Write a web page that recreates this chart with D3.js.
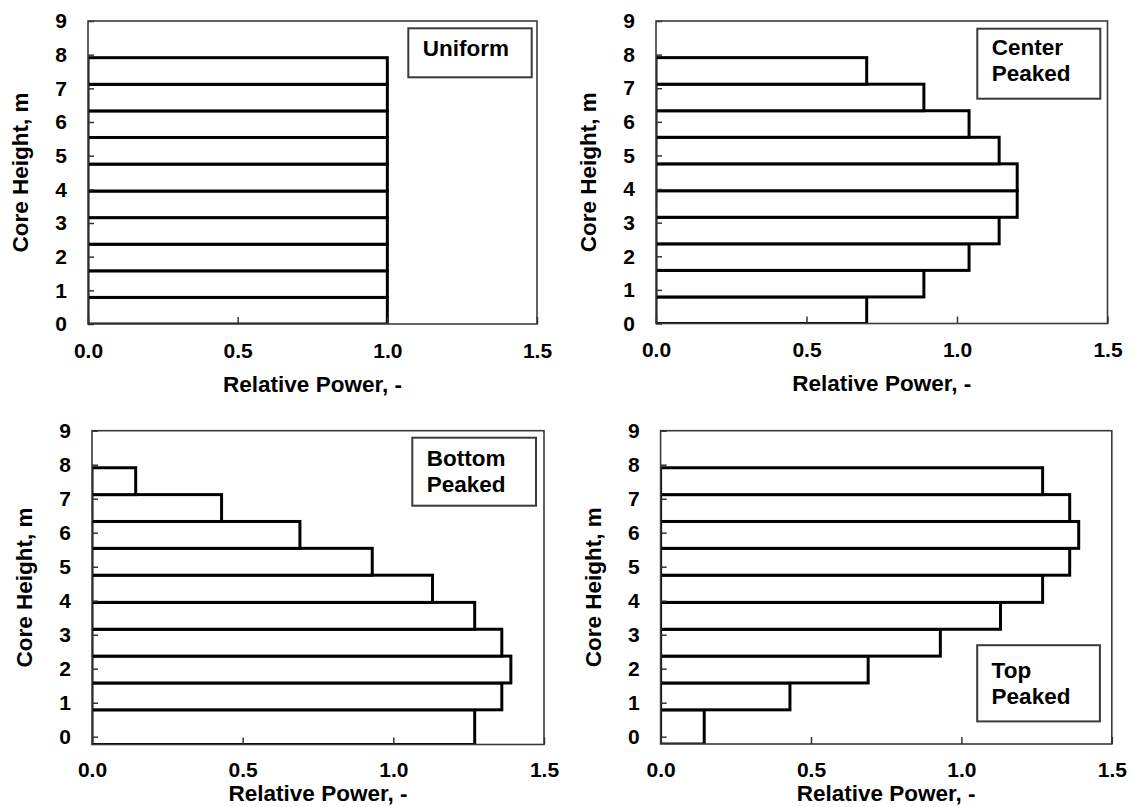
<!DOCTYPE html>
<html>
<head>
<meta charset="utf-8">
<script src="https://cdn.jsdelivr.net/npm/d3@7"></script>
<style>
  html, body { margin: 0; padding: 0; background: #fff; }
  svg { display: block; }
</style>
</head>
<body>
<svg id="chart" width="1134" height="807"></svg>
<script>
// ---- data ----
const segmentEdges = [0, 0.79, 1.58, 2.37, 3.16, 3.95, 4.75, 5.54, 6.33, 7.12, 7.91];
const uniform      = [1.00, 1.00, 1.00, 1.00, 1.00, 1.00, 1.00, 1.00, 1.00, 1.00];
const centerPeaked = [0.70, 0.89, 1.04, 1.14, 1.20, 1.20, 1.14, 1.04, 0.89, 0.70];
const bottomPeaked = [1.27, 1.36, 1.39, 1.36, 1.27, 1.13, 0.93, 0.69, 0.43, 0.145];
const topPeaked    = [0.145, 0.43, 0.69, 0.93, 1.13, 1.27, 1.36, 1.39, 1.36, 1.27];
const yTicks = [0, 1, 2, 3, 4, 5, 6, 7, 8, 9];
const xTicks = [0, 0.5, 1.0, 1.5];
const xTickLabels = ["0.0", "0.5", "1.0", "1.5"];
const xTitle = "Relative Power, -";
const yTitle = "Core Height, m";
const legendUniform = ["Uniform"];
const legendCenter = ["Center", "Peaked"];
const legendBottom = ["Bottom", "Peaked"];
const legendTop = ["Top", "Peaked"];

// ---- layout ----
const FONT = "'Liberation Sans', Arial, Helvetica, sans-serif";
const panels = [
  { values: uniform, legend: legendUniform, left: 88, top: 21, right: 537, bottom: 324, yMin: 0,
    box: [408.3, 28.3, 531.7, 77.3], textBase: 27.5, xTitleOff: 67.7, tickPad: 18.6 },
  { values: centerPeaked, legend: legendCenter, left: 656, top: 21, right: 1107.5, bottom: 323.5, yMin: 0,
    box: [977.3, 28.7, 1100.3, 98.7], textBase: 26.5, xTitleOff: 67.7, tickPad: 18.6 },
  { values: bottomPeaked, legend: legendBottom, left: 92, top: 430.7, right: 544, bottom: 744.5, yMin: -0.23,
    box: [412.3, 437.7, 536, 505.7], textBase: 28, xTitleOff: 56, tickPad: 17.4 },
  { values: topPeaked, legend: legendTop, left: 660.6, top: 430.7, right: 1111.8, bottom: 744.0, yMin: -0.215,
    box: [977.2, 645.2, 1099.9, 721.4], textBase: 32.4, xTitleOff: 56.5, tickPad: 17.6 }
];

const svg = d3.select("#chart");
const defs = svg.append("defs");

panels.forEach((p, i) => {
  const x = d3.scaleLinear().domain([0, 1.5]).range([p.left, p.right]);
  const y = d3.scaleLinear().domain([p.yMin, 9]).range([p.bottom, p.top]);
  const g = svg.append("g");

  defs.append("clipPath").attr("id", "clip" + i)
    .append("rect")
    .attr("x", p.left).attr("y", p.top)
    .attr("width", p.right - p.left).attr("height", p.bottom - p.top);

  // bars (lowest bar reaches down to the axis floor)
  const bars = p.values.map((v, k) => ({
    v,
    lo: k === 0 ? Math.min(p.yMin, segmentEdges[k]) : segmentEdges[k],
    hi: segmentEdges[k + 1]
  }));
  g.append("g").attr("clip-path", `url(#clip${i})`)
    .selectAll("rect").data(bars).join("rect")
    .attr("x", x(0))
    .attr("y", d => y(d.hi))
    .attr("width", d => x(d.v) - x(0))
    .attr("height", d => y(d.lo) - y(d.hi))
    .attr("fill", "#fff")
    .attr("stroke", "#000")
    .attr("stroke-width", 3);

  // frame
  g.append("rect")
    .attr("x", p.left).attr("y", p.top)
    .attr("width", p.right - p.left).attr("height", p.bottom - p.top)
    .attr("fill", "none").attr("stroke", "#3a3a3a").attr("stroke-width", 1.6);

  // y axis (inward ticks)
  const yAxis = d3.axisLeft(y).tickValues(yTicks).tickFormat(d3.format("d"))
    .tickSizeInner(-6).tickSizeOuter(0).tickPadding(21);
  const ya = g.append("g").attr("transform", `translate(${p.left},0)`).call(yAxis);
  ya.select(".domain").remove();
  ya.selectAll("line").attr("stroke", "#333").attr("stroke-width", 1.5);
  ya.selectAll("text").attr("font-family", FONT).attr("font-size", 21)
    .attr("font-weight", "bold").attr("fill", "#000");

  // x axis (inward ticks)
  const xAxis = d3.axisBottom(x).tickValues(xTicks)
    .tickFormat((d, k) => xTickLabels[k])
    .tickSizeInner(-7).tickSizeOuter(0).tickPadding(p.tickPad);
  const xa = g.append("g").attr("transform", `translate(0,${p.bottom})`).call(xAxis);
  xa.select(".domain").remove();
  xa.selectAll("line").attr("stroke", "#333").attr("stroke-width", 1.5);
  xa.selectAll("text").attr("font-family", FONT).attr("font-size", 21)
    .attr("font-weight", "bold").attr("fill", "#000");

  // axis titles
  g.append("text")
    .attr("x", (p.left + p.right) / 2)
    .attr("y", p.bottom + p.xTitleOff)
    .attr("text-anchor", "middle")
    .attr("font-family", FONT).attr("font-size", 22.5).attr("font-weight", "bold")
    .text(xTitle);

  g.append("text")
    .attr("transform", `translate(${p.left - 60},${(p.top + p.bottom) / 2}) rotate(-90)`)
    .attr("text-anchor", "middle")
    .attr("font-family", FONT).attr("font-size", 22.5).attr("font-weight", "bold")
    .text(yTitle);

  // legend box
  const [bx0, by0, bx1, by1] = p.box;
  g.append("rect")
    .attr("x", bx0).attr("y", by0)
    .attr("width", bx1 - bx0).attr("height", by1 - by0)
    .attr("fill", "#fff").attr("stroke", "#3a3a3a").attr("stroke-width", 2);
  g.selectAll(null).data(p.legend).join("text")
    .attr("x", bx0 + 14.4)
    .attr("y", (d, k) => by0 + p.textBase + k * 26)
    .attr("font-family", FONT).attr("font-size", 22.5).attr("font-weight", "bold")
    .attr("fill", "#000")
    .text(d => d);
});
</script>
</body>
</html>
